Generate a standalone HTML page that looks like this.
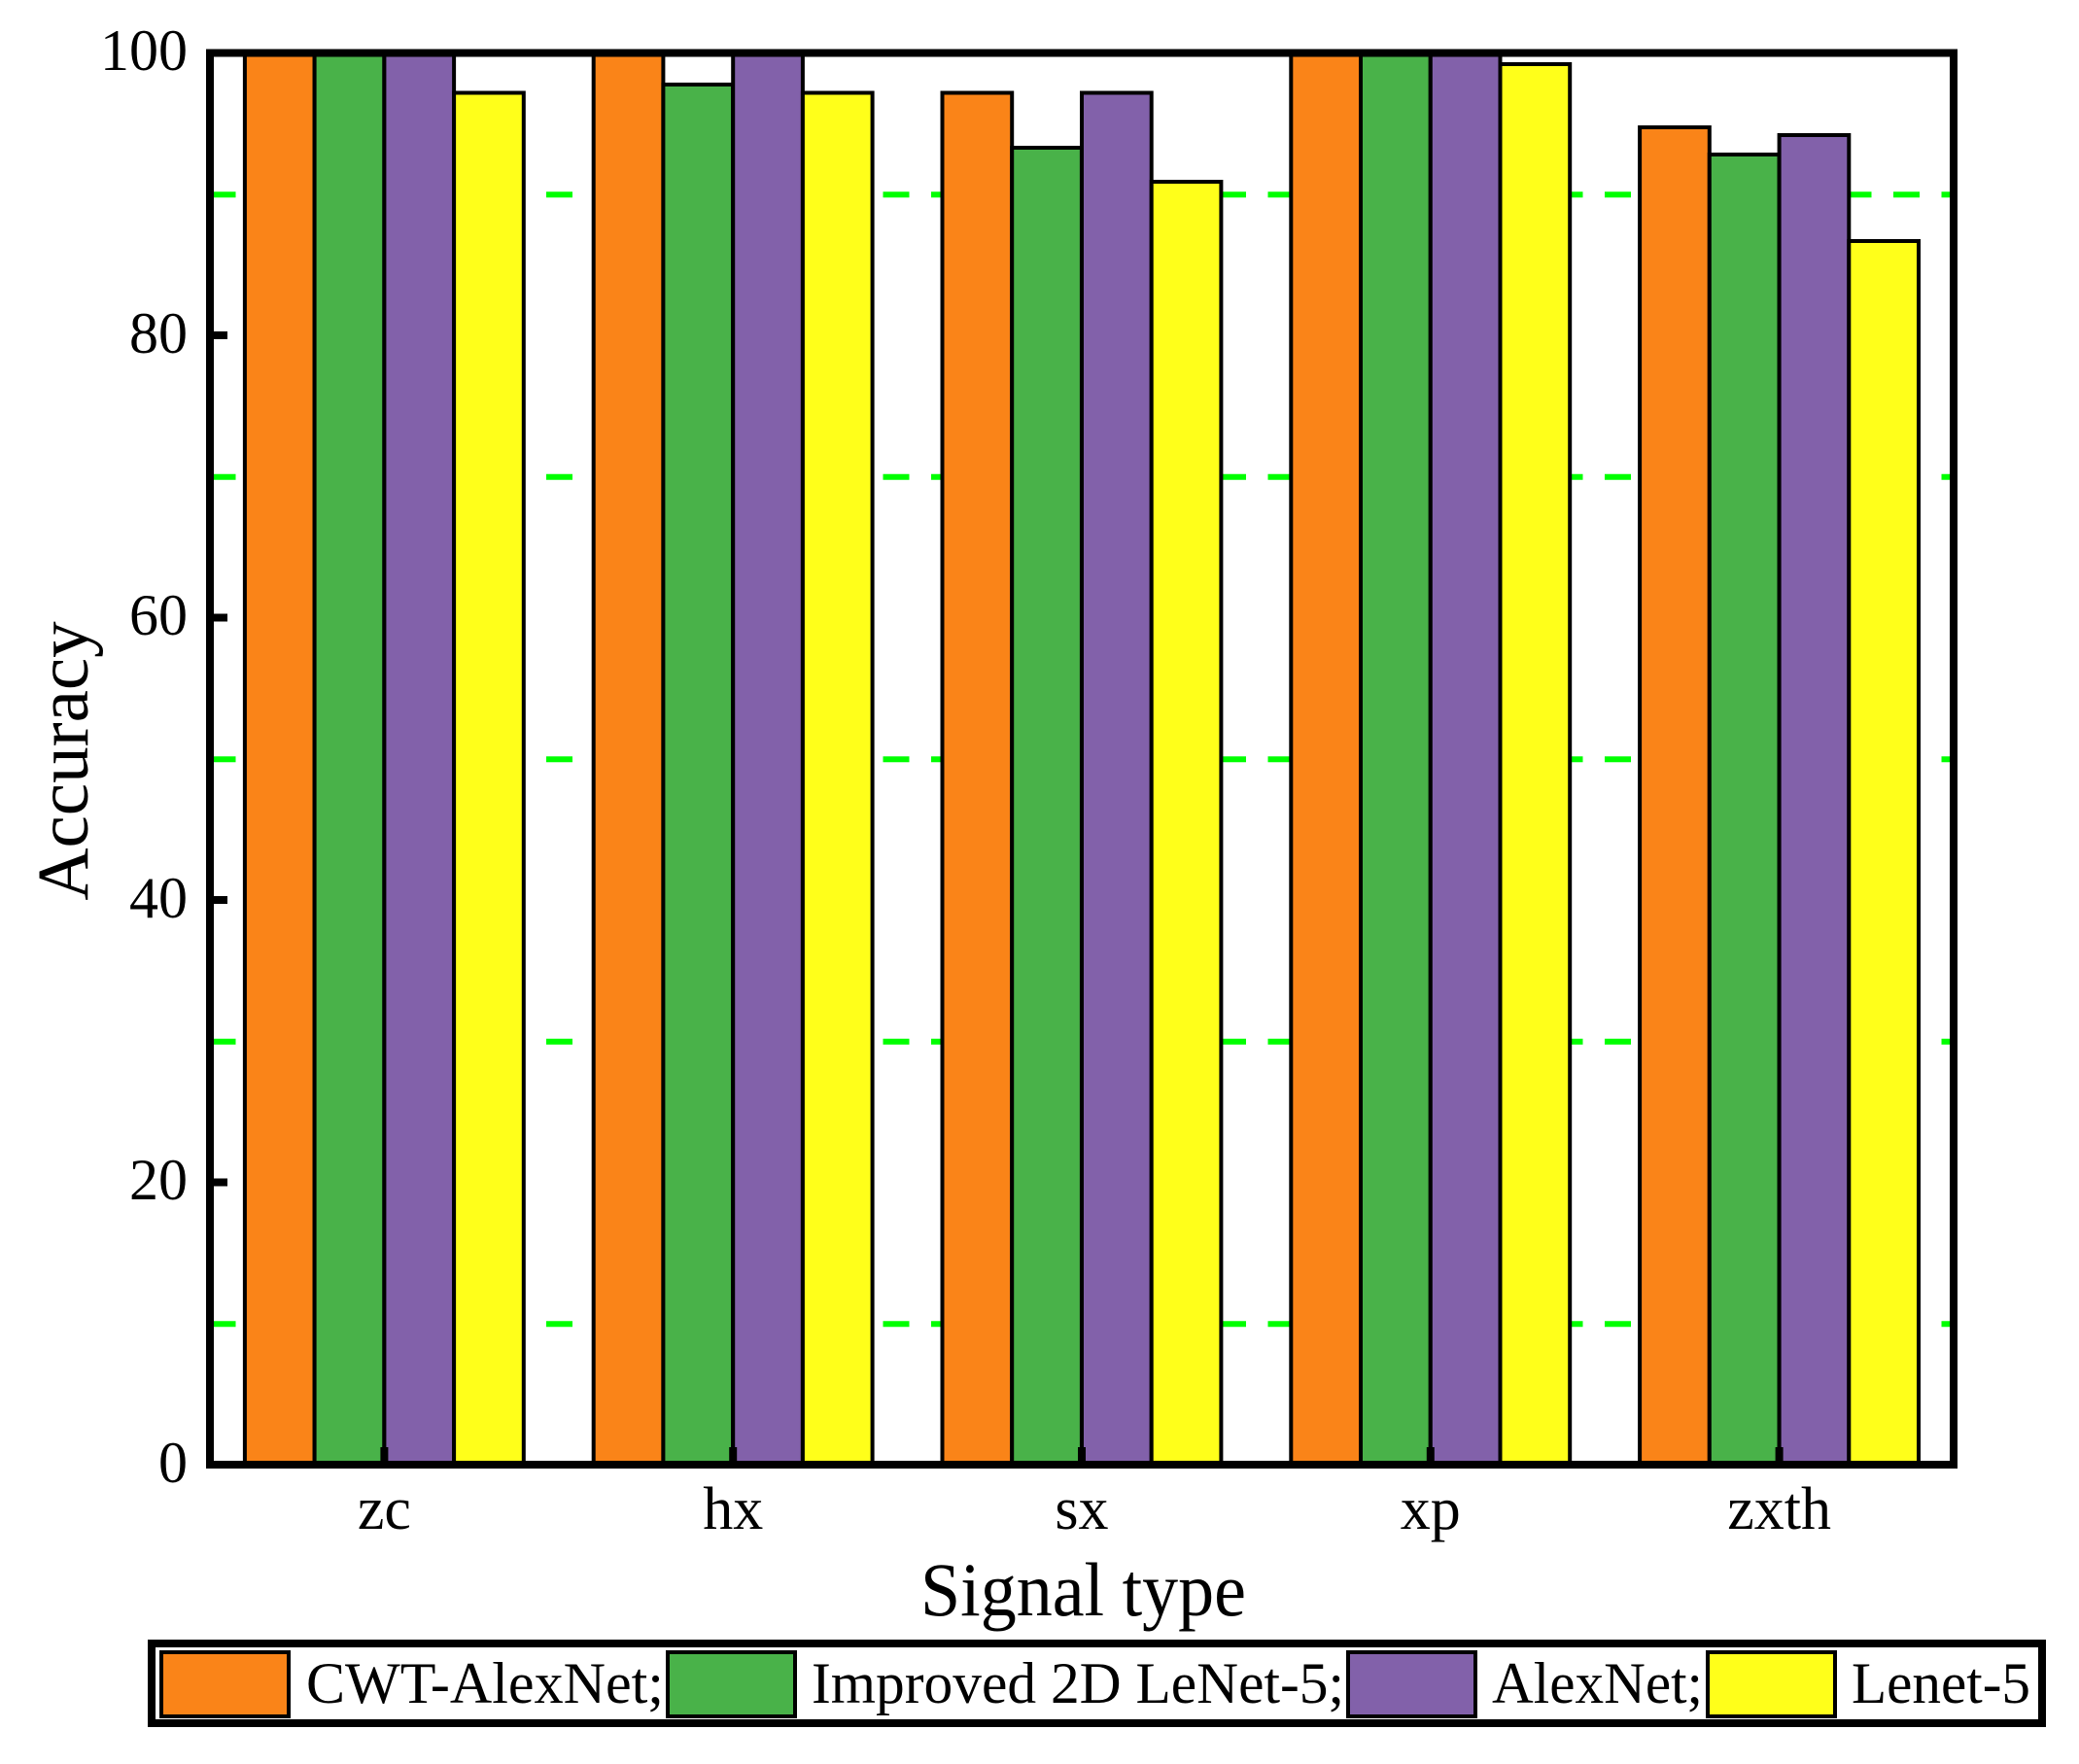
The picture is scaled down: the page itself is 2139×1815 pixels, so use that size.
<!DOCTYPE html>
<html><head><meta charset="utf-8"><style>html,body{margin:0;padding:0;background:#fff}svg{display:block}</style></head>
<body>
<svg width="2139" height="1815" viewBox="0 0 2139 1815" xmlns="http://www.w3.org/2000/svg" font-family="'Liberation Serif', serif">
<rect width="2139" height="1815" fill="#fff"/>
<!-- dashed grid -->
<g stroke="#00ff00" stroke-width="6" stroke-dasharray="27 22.5">
<line x1="215.5" x2="2006" y1="200.3" y2="200.3"/>
<line x1="215.5" x2="2006" y1="490.8" y2="490.8"/>
<line x1="215.5" x2="2006" y1="781.3" y2="781.3"/>
<line x1="215.5" x2="2006" y1="1071.8" y2="1071.8"/>
<line x1="215.5" x2="2006" y1="1362.3" y2="1362.3"/>
</g>
<g stroke="#000" stroke-width="4">
<rect x="251.9" y="54.5" width="71.7" height="1452.5" fill="#fa8418"/>
<rect x="323.6" y="54.5" width="71.7" height="1452.5" fill="#49b249"/>
<rect x="395.4" y="54.5" width="71.7" height="1452.5" fill="#8261aa"/>
<rect x="467.1" y="95.5" width="71.7" height="1411.5" fill="#ffff1a"/>
<rect x="610.7" y="54.5" width="71.7" height="1452.5" fill="#fa8418"/>
<rect x="682.4" y="87" width="71.7" height="1420" fill="#49b249"/>
<rect x="754.2" y="54.5" width="71.7" height="1452.5" fill="#8261aa"/>
<rect x="825.9" y="95.5" width="71.7" height="1411.5" fill="#ffff1a"/>
<rect x="969.5" y="95.5" width="71.7" height="1411.5" fill="#fa8418"/>
<rect x="1041.2" y="152" width="71.7" height="1355" fill="#49b249"/>
<rect x="1113" y="95.5" width="71.7" height="1411.5" fill="#8261aa"/>
<rect x="1184.7" y="187" width="71.7" height="1320" fill="#ffff1a"/>
<rect x="1328.3" y="54.5" width="71.7" height="1452.5" fill="#fa8418"/>
<rect x="1400" y="54.5" width="71.7" height="1452.5" fill="#49b249"/>
<rect x="1471.8" y="54.5" width="71.7" height="1452.5" fill="#8261aa"/>
<rect x="1543.5" y="66" width="71.7" height="1441" fill="#ffff1a"/>
<rect x="1687.1" y="131" width="71.7" height="1376" fill="#fa8418"/>
<rect x="1758.8" y="159" width="71.7" height="1348" fill="#49b249"/>
<rect x="1830.6" y="139" width="71.7" height="1368" fill="#8261aa"/>
<rect x="1902.3" y="248" width="71.7" height="1259" fill="#ffff1a"/>
</g>
<rect x="216" y="54.5" width="1794" height="1452.5" fill="none" stroke="#000" stroke-width="8"/>
<g stroke="#000" stroke-width="8">
<line x1="216" x2="234" y1="1216.5" y2="1216.5"/>
<line x1="216" x2="234" y1="926" y2="926"/>
<line x1="216" x2="234" y1="635.5" y2="635.5"/>
<line x1="216" x2="234" y1="345" y2="345"/>
<line x1="395.4" x2="395.4" y1="1507" y2="1489"/>
<line x1="754.2" x2="754.2" y1="1507" y2="1489"/>
<line x1="1113" x2="1113" y1="1507" y2="1489"/>
<line x1="1471.8" x2="1471.8" y1="1507" y2="1489"/>
<line x1="1830.6" x2="1830.6" y1="1507" y2="1489"/>
</g>
<g font-size="60" text-anchor="end" fill="#000">
<text x="193" y="72">100</text>
<text x="193" y="363">80</text>
<text x="193" y="653">60</text>
<text x="193" y="944">40</text>
<text x="193" y="1234">20</text>
<text x="193" y="1525">0</text>
</g>
<g font-size="62" text-anchor="middle" fill="#000">
<text x="395.4" y="1573">zc</text>
<text x="754.2" y="1573">hx</text>
<text x="1113" y="1573">sx</text>
<text x="1471.8" y="1573">xp</text>
<text x="1830.6" y="1573">zxth</text>
</g>
<text x="947" y="1662" font-size="78" textLength="335" lengthAdjust="spacingAndGlyphs">Signal type</text>
<text transform="translate(90,783) rotate(-90)" font-size="75" text-anchor="middle">Accuracy</text>
<rect x="156" y="1691" width="1945" height="82" fill="#fff" stroke="#000" stroke-width="8"/>
<g stroke="#000" stroke-width="4">
<rect x="166" y="1700" width="131" height="66" fill="#fa8418"/>
<rect x="687" y="1700" width="131" height="66" fill="#49b249"/>
<rect x="1387" y="1700" width="131" height="66" fill="#8261aa"/>
<rect x="1757" y="1700" width="131" height="66" fill="#ffff1a"/>
</g>
<g font-size="60" fill="#000">
<text x="315" y="1752" textLength="368" lengthAdjust="spacingAndGlyphs">CWT-AlexNet;</text>
<text x="835" y="1752" textLength="548" lengthAdjust="spacingAndGlyphs">Improved 2D LeNet-5;</text>
<text x="1535" y="1752" textLength="217" lengthAdjust="spacingAndGlyphs">AlexNet;</text>
<text x="1905" y="1752" textLength="184" lengthAdjust="spacingAndGlyphs">Lenet-5</text>
</g>
</svg>
</body></html>
